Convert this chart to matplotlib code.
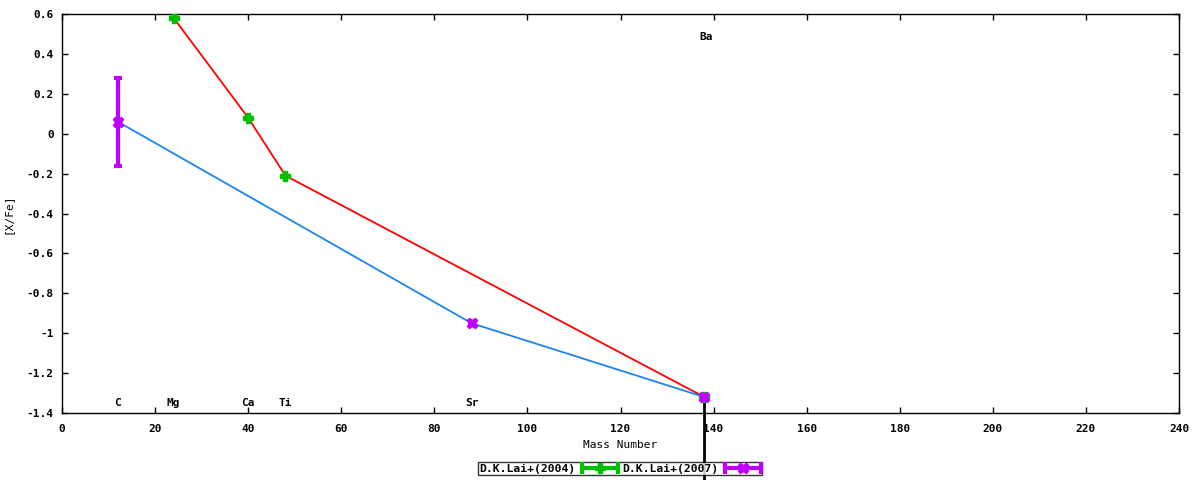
import matplotlib.pyplot as plt
import matplotlib.ticker as mticker
from matplotlib.lines import Line2D
from matplotlib.legend_handler import HandlerLine2D, HandlerTuple

# Data
lai2004_mass = [24, 40, 48, 138]
lai2004_xfe = [0.58, 0.08, -0.21, -1.32]

lai2007_mass = [12, 88, 138]
lai2007_xfe = [0.06, -0.95, -1.32]
lai2007_err = [0.22, 0.0, 0.0]

# Ba limit line (goes below the frame)
ba_mass = [138]
ba_xfe = [-1.32]
ba_low = [1.0]

elements = ['C', 'Mg', 'Ca', 'Ti', 'Sr', 'Ba']
elem_mass = [12, 24, 40, 48, 88, 138.5]
elem_y = [-1.35, -1.35, -1.35, -1.35, -1.35, 0.485]

plt.rcParams['font.family'] = ['DejaVu Sans Mono']
plt.rcParams['font.weight'] = 'bold'
plt.rcParams['font.size'] = 8

fig = plt.figure(figsize=(12, 4.8), dpi=100)
ax = fig.add_axes([62 / 1200, 1 - 413 / 480, 1117 / 1200, 399 / 480])

green = '#00c000'
purple = '#c000ff'

# Connecting lines
ax.plot(lai2004_mass, lai2004_xfe, color='red', lw=1.3, zorder=2)
ax.plot(lai2007_mass, lai2007_xfe, color='#1a85f0', lw=1.3, zorder=2)

# Black vertical line at Ba
ax.errorbar(ba_mass, ba_xfe, yerr=[ba_low, [0]], fmt='none', ecolor='black',
            elinewidth=2, capsize=0, clip_on=False, zorder=3)

ax.errorbar(lai2004_mass, lai2004_xfe, yerr=[0] * 4, fmt='P', color=green,
            ms=7.5, mec=green, elinewidth=3, capsize=3, capthick=3, zorder=4)
ax.errorbar(lai2007_mass, lai2007_xfe, yerr=lai2007_err, fmt='X', color=purple,
            ms=7.5, mec=purple, elinewidth=3, capsize=3, capthick=3, zorder=5)

for name, x, y in zip(elements, elem_mass, elem_y):
    ax.text(x, y, name, ha='center', va='center', fontsize=8, fontweight='bold')

ax.set_xlim(0, 240)
ax.set_ylim(-1.4, 0.6)
ax.xaxis.set_major_locator(mticker.MultipleLocator(20))
ax.yaxis.set_major_locator(mticker.MultipleLocator(0.2))
ax.yaxis.set_major_formatter(mticker.FuncFormatter(
    lambda v, p: '0' if abs(v) < 1e-9 else ('%g' % round(v, 1))))
ax.tick_params(axis='x', direction='in', top=True, length=4, width=1, pad=8)
ax.tick_params(axis='y', direction='in', right=True, length=4, width=1, pad=6)

ax.set_xlabel('Mass Number', labelpad=4)
ax.set_ylabel('[X/Fe]', labelpad=10)

# Legend samples: horizontal error bar with marker in the middle
g_line = Line2D([], [], color=green, lw=3, marker='P', ms=7.5)
g_caps = Line2D([], [], color=green, lw=0, marker='|', ms=8, mew=3)
p_line = Line2D([], [], color=purple, lw=3, marker='X', ms=7.5)
p_caps = Line2D([], [], color=purple, lw=0, marker='|', ms=8, mew=3)
hmap = {g_line: HandlerLine2D(numpoints=1), p_line: HandlerLine2D(numpoints=1),
        g_caps: HandlerLine2D(numpoints=2, marker_pad=0.0),
        p_caps: HandlerLine2D(numpoints=2, marker_pad=0.0),
        tuple: HandlerTuple(ndivide=1)}

leg = fig.legend([(g_line, g_caps), (p_line, p_caps)], ['D.K.Lai+(2004)', 'D.K.Lai+(2007)'],
                 handler_map=hmap, loc='center',
                 bbox_to_anchor=(620 / 1200, 1 - 468.5 / 480),
                 ncol=2, markerfirst=False, frameon=True, fancybox=False,
                 edgecolor='black', borderpad=0.1, handlelength=3.1, columnspacing=0.4,
                 handletextpad=0.6, borderaxespad=0, fontsize=8.2)
leg.get_frame().set_linewidth(1)

for s in ax.spines.values():
    s.set_linewidth(1)

fig.savefig('out.png', dpi=100)
